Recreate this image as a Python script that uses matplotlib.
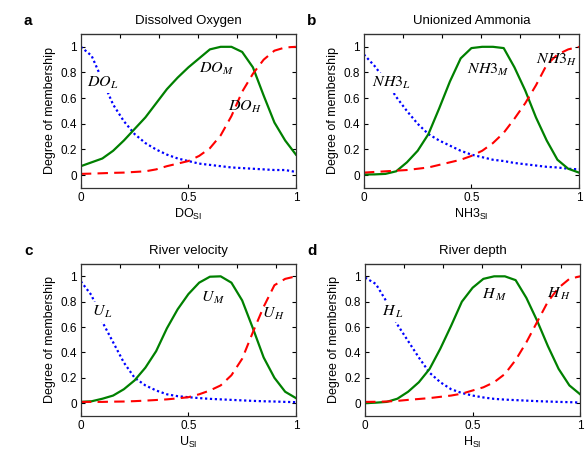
import numpy as np
import matplotlib
matplotlib.use("Agg")
import matplotlib.pyplot as plt

plt.rcParams['font.family'] = ['Liberation Sans', 'DejaVu Sans']
plt.rcParams['mathtext.fontset'] = 'custom'
plt.rcParams['mathtext.rm'] = 'Liberation Sans'
plt.rcParams['mathtext.it'] = 'Liberation Sans:italic'

# common x grid (read every 0.05)
x = [0.0, 0.05, 0.1, 0.15, 0.2, 0.25, 0.3, 0.35, 0.4, 0.45, 0.5,
     0.55, 0.6, 0.65, 0.7, 0.75, 0.8, 0.85, 0.9, 0.95, 1.0]

# a - dissolved oxygen
do_low = [1.0, 0.93, 0.74, 0.55, 0.42, 0.32, 0.25, 0.2, 0.16, 0.13, 0.11,
          0.09, 0.08, 0.07, 0.06, 0.055, 0.05, 0.045, 0.04, 0.04, 0.025]
do_med = [0.07, 0.1, 0.13, 0.19, 0.27, 0.36, 0.45, 0.56, 0.67, 0.76, 0.84,
          0.91, 0.98, 1.0, 1.0, 0.96, 0.84, 0.62, 0.41, 0.27, 0.16]
do_high = [0.01, 0.012, 0.015, 0.018, 0.02, 0.025, 0.03, 0.045, 0.07, 0.09, 0.11,
           0.15, 0.21, 0.31, 0.46, 0.65, 0.79, 0.9, 0.97, 0.995, 1.0]

# b - unionized ammonia
nh3_low = [0.94, 0.85, 0.74, 0.61, 0.5, 0.4, 0.32, 0.27, 0.23, 0.19, 0.16,
           0.14, 0.12, 0.11, 0.095, 0.085, 0.075, 0.065, 0.06, 0.05, 0.045]
nh3_med = [0.005, 0.006, 0.01, 0.03, 0.1, 0.19, 0.32, 0.52, 0.73, 0.91, 0.99,
           1.0, 1.0, 0.99, 0.84, 0.66, 0.45, 0.27, 0.12, 0.05, 0.02]
nh3_high = [0.02, 0.025, 0.03, 0.035, 0.04, 0.05, 0.06, 0.08, 0.1, 0.12, 0.15,
            0.19, 0.25, 0.33, 0.44, 0.56, 0.7, 0.86, 0.94, 0.98, 1.0]

# c - river velocity
u_low = [0.96, 0.85, 0.64, 0.48, 0.32, 0.2, 0.14, 0.1, 0.07, 0.055, 0.047,
         0.04, 0.034, 0.03, 0.026, 0.022, 0.018, 0.015, 0.013, 0.01, 0.008]
u_med = [0.01, 0.015, 0.035, 0.06, 0.11, 0.18, 0.28, 0.41, 0.59, 0.74, 0.86,
         0.95, 0.997, 1.0, 0.95, 0.81, 0.59, 0.36, 0.2, 0.09, 0.04]
u_high = [0.01, 0.01, 0.01, 0.012, 0.013, 0.016, 0.02, 0.025, 0.03, 0.038, 0.047,
          0.07, 0.1, 0.14, 0.22, 0.35, 0.56, 0.76, 0.93, 0.98, 1.0]

# d - river depth
h_low = [0.99, 0.94, 0.8, 0.62, 0.49, 0.36, 0.24, 0.165, 0.11, 0.08, 0.06,
         0.045, 0.034, 0.028, 0.024, 0.02, 0.016, 0.013, 0.01, 0.008, 0.005]
h_med = [0.0, 0.004, 0.01, 0.035, 0.09, 0.165, 0.27, 0.43, 0.61, 0.8, 0.91,
         0.98, 1.0, 1.0, 0.97, 0.83, 0.65, 0.45, 0.27, 0.14, 0.07]
h_high = [0.01, 0.011, 0.013, 0.018, 0.026, 0.033, 0.04, 0.05, 0.06, 0.075, 0.1,
          0.125, 0.165, 0.23, 0.34, 0.48, 0.64, 0.8, 0.91, 0.98, 1.0]

panels = [
    ('a', 'Dissolved Oxygen', 'DO$_{\\mathrm{SI}}$', do_low, do_med, do_high,
     ['$DO_L$', '$DO_M$', '$DO_H$'], [(0.1, 0.72), (0.63, 0.83), (0.765, 0.53)]),
    ('b', 'Unionized Ammonia', 'NH3$_{\\mathrm{SI}}$', nh3_low, nh3_med, nh3_high,
     ['$NH3_L$', '$NH3_M$', '$NH3_H$'], [(0.13, 0.72), (0.58, 0.82), (0.895, 0.9)]),
    ('c', 'River velocity', 'U$_{\\mathrm{SI}}$', u_low, u_med, u_high,
     ['$U_{\\,L}$', '$U_{\\,M}$', '$U_{\\,H}$'], [(0.1, 0.72), (0.615, 0.83), (0.895, 0.7)]),
    ('d', 'River depth', 'H$_{\\mathrm{SI}}$', h_low, h_med, h_high,
     ['$H_{\\,L}$', '$H_{\\,M}$', '$H_{\\,H}$'], [(0.13, 0.72), (0.6, 0.85), (0.9, 0.86)]),
]

rects = [[0.138, 0.585, 0.367, 0.340], [0.621, 0.585, 0.367, 0.340],
         [0.138, 0.082, 0.367, 0.336], [0.623, 0.082, 0.367, 0.336]]

fig = plt.figure(figsize=(5.86, 4.53), dpi=100)

for rect, (letter, title, xlab, lo, me, hi, names, pos) in zip(rects, panels):
    ax = fig.add_axes(rect)
    ax.plot(x, lo, color='blue', linestyle=(0, (1, 1.2)), lw=1.6)
    ax.plot(x, me, color='green', linestyle='-', lw=1.6)
    ax.plot(x, hi, color='red', linestyle=(0, (5, 3)), lw=1.5)
    ax.set_xlim(0, 1)
    ax.set_ylim(-0.1, 1.1)
    ax.set_xticks([0, 0.5, 1])
    ax.set_xticklabels(['0', '0.5', '1'])
    ax.set_yticks([0, 0.2, 0.4, 0.6, 0.8, 1])
    ax.set_yticklabels(['0', '0.2', '0.4', '0.6', '0.8', '1'])
    ax.tick_params(direction='in', length=3, width=0.8, labelsize=8.5,
                   right=True, top=False, pad=3)
    for s in ax.spines.values():
        s.set_linewidth(0.9)
        s.set_color('#333333')
    top = ax.secondary_xaxis('top', functions=(lambda v: v * 5.5, lambda v: v / 5.5))
    top.set_xticks([1, 2, 3, 4, 5])
    top.tick_params(direction='in', length=3, width=0.8, labeltop=False)
    ax.set_ylabel('Degree of membership', fontsize=9, labelpad=3)
    ax.set_xlabel(xlab, fontsize=9, labelpad=2)
    ax.set_title(title, fontsize=9.5, pad=7)
    for i, (nm, (px, py)) in enumerate(zip(names, pos)):
        box = dict(facecolor='white', edgecolor='none', pad=1.5) if i == 0 else None
        ax.text(px, py, nm, fontsize=11.5, ha='center', va='center',
                math_fontfamily='stix', zorder=5, bbox=box)
    fig.text(rect[0] - 0.09, rect[1] + rect[3] + 0.028, letter,
             fontsize=11, fontweight='bold', ha='center', va='center')

fig.savefig('out.png', dpi=100)
